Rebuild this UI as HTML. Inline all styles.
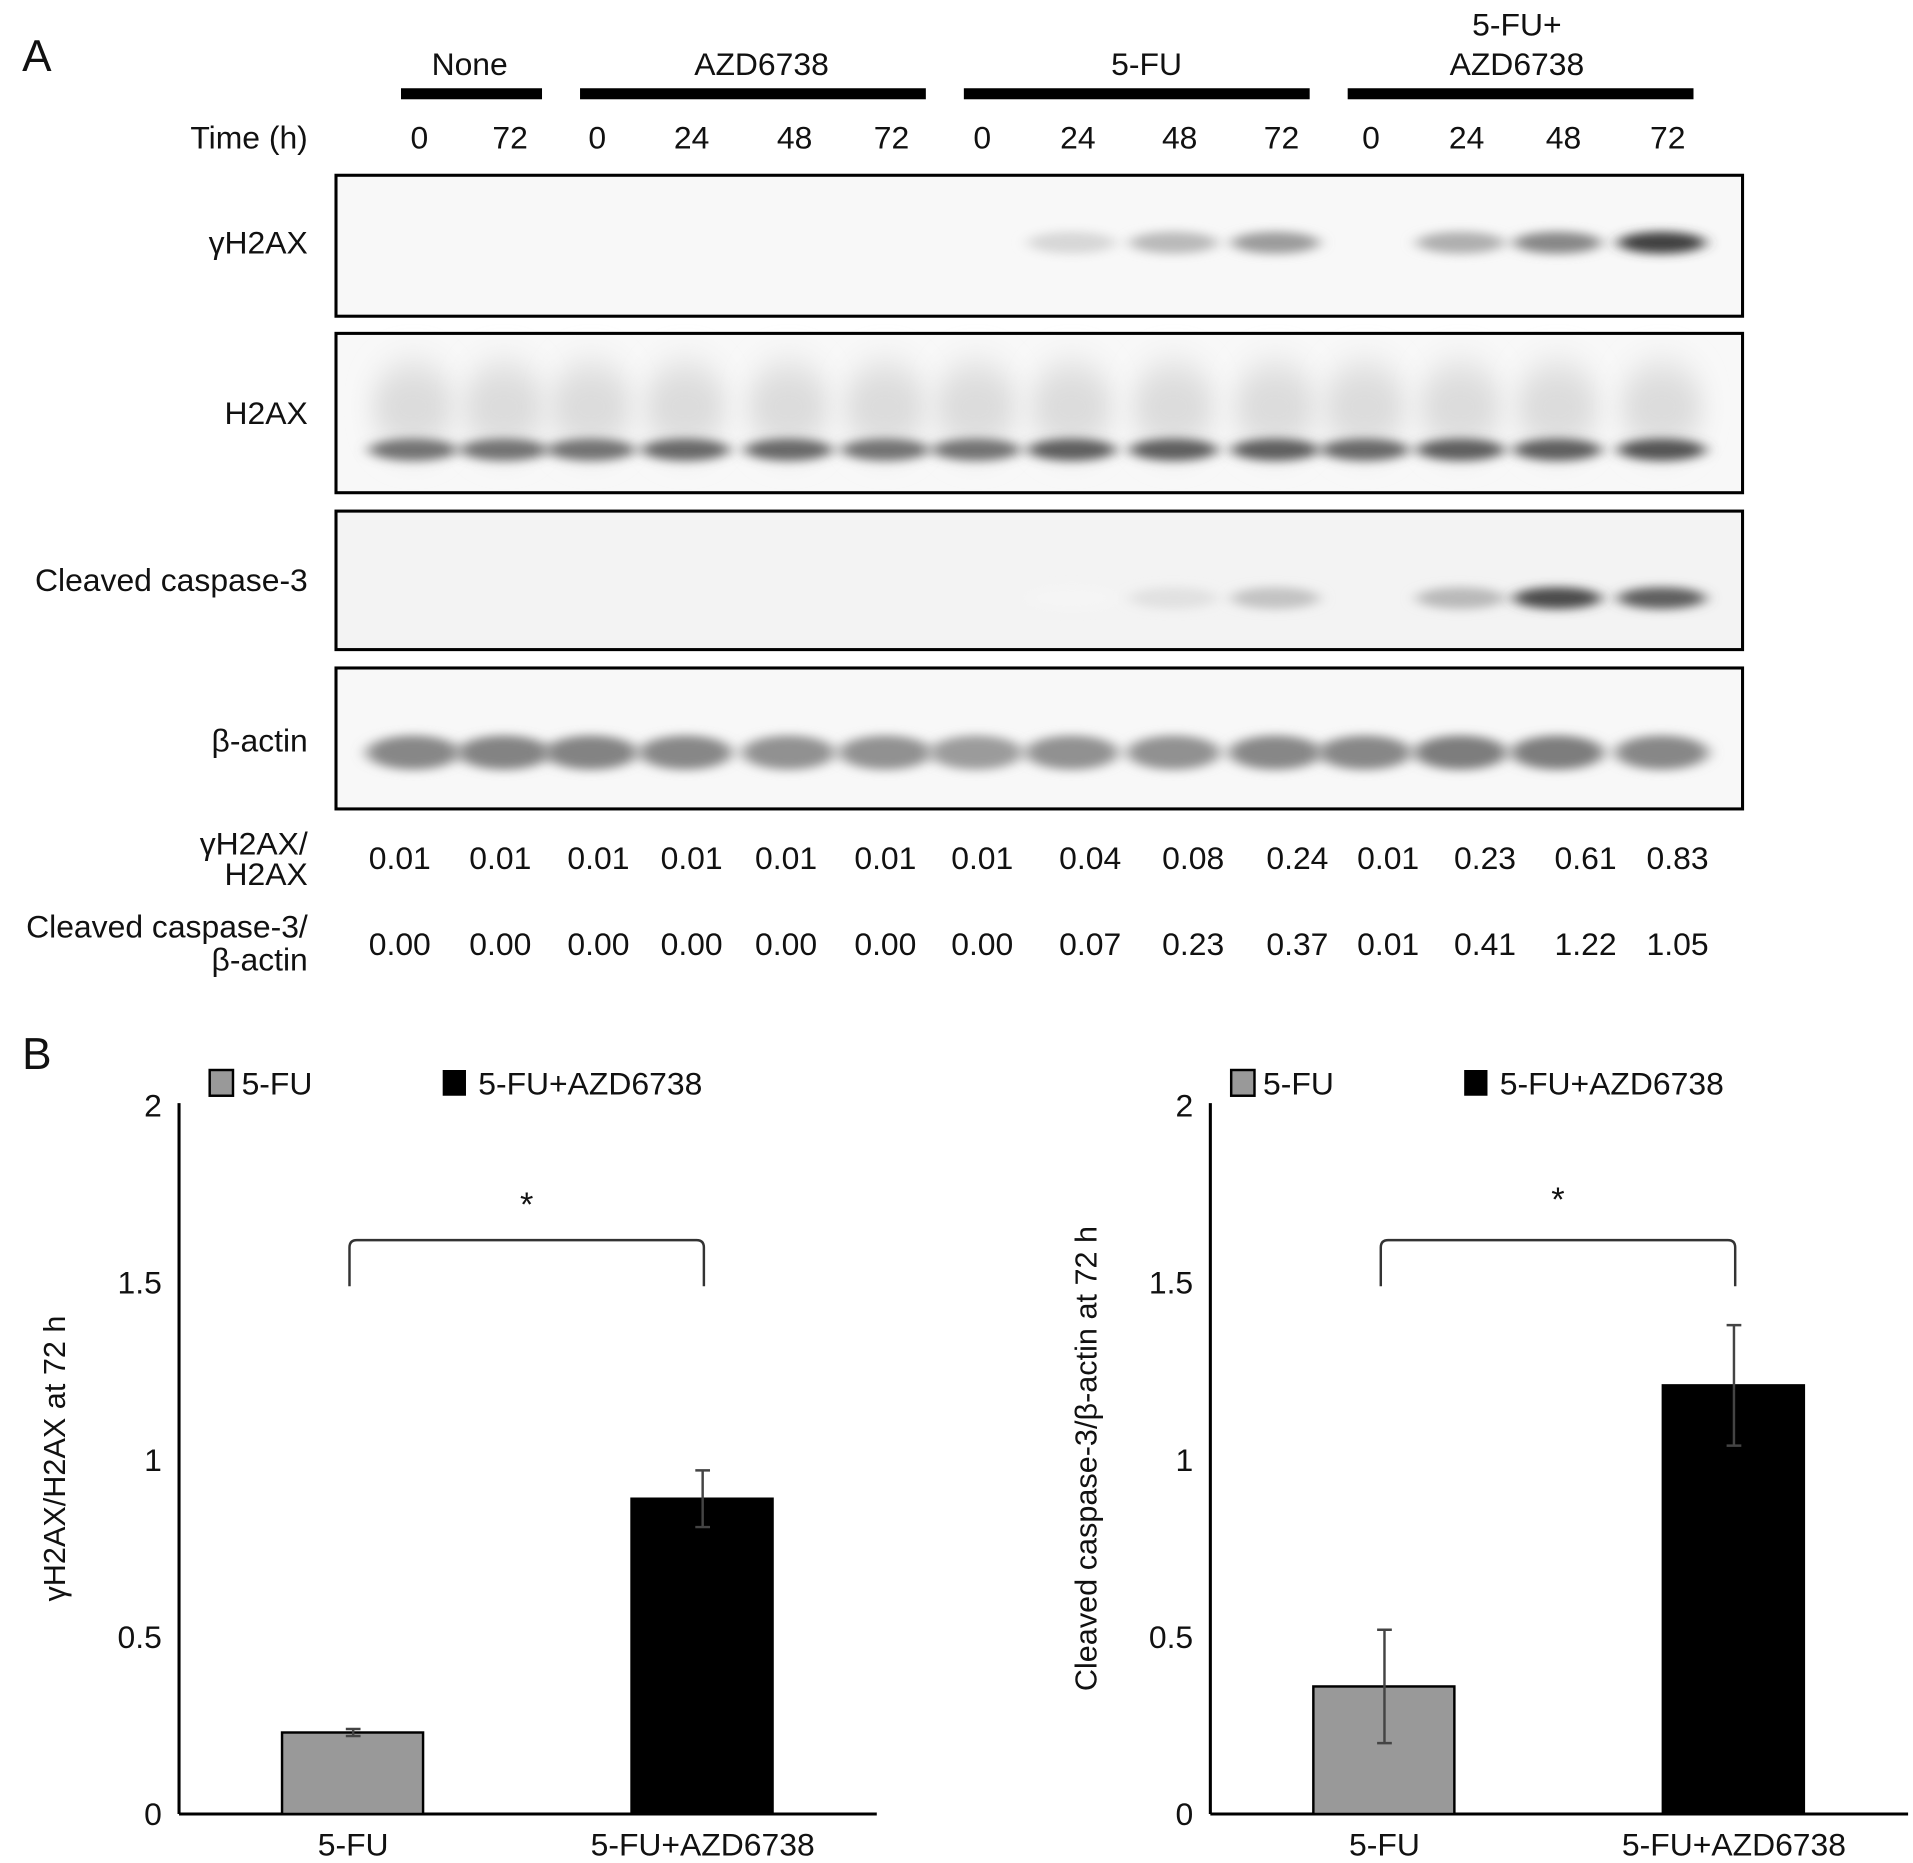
<!DOCTYPE html>
<html><head><meta charset="utf-8"><style>
html,body{margin:0;padding:0;background:#fff}
svg{display:block}
text{font-family:"Liberation Sans",Arial,sans-serif;fill:#111}
</style></head><body>
<svg id="fig" width="1913" height="1863" viewBox="0 0 1560 1520" preserveAspectRatio="none" xmlns="http://www.w3.org/2000/svg">
<defs>
<filter id="blur" x="-50%" y="-100%" width="200%" height="300%"><feGaussianBlur stdDeviation="6 4"/></filter>
<filter id="blur2" x="-50%" y="-100%" width="200%" height="300%"><feGaussianBlur stdDeviation="10 14"/></filter>
</defs>
<g id="panelA"></g>
<g id="panelB"></g>
</svg>
<script>
const lanesX=[342,416,487,564,648,727,801,879,962,1045,1118,1196,1275,1360];
const times=["0","72","0","24","48","72","0","24","48","72","0","24","48","72"];
const gH2AX=[0,0,0,0,0,0,0,0.2,0.35,0.5,0,0.4,0.6,0.95];
const h2ax=[0.7,0.7,0.7,0.75,0.75,0.7,0.7,0.8,0.8,0.8,0.75,0.8,0.8,0.85];
const casp=[0,0,0,0,0,0,0,0.05,0.15,0.3,0,0.35,0.9,0.8];
const actin=[0.6,0.62,0.62,0.6,0.55,0.55,0.5,0.55,0.55,0.6,0.6,0.65,0.65,0.6];
const ratio1=["0.01","0.01","0.01","0.01","0.01","0.01","0.01","0.04","0.08","0.24","0.01","0.23","0.61","0.83"];
const ratio2=["0.00","0.00","0.00","0.00","0.00","0.00","0.00","0.07","0.23","0.37","0.01","0.41","1.22","1.05"];
const ratioX=[326,408,488,564,641,722,801,889,973,1058,1132,1211,1293,1368];
const groups=["None","AZD6738","5-FU","5-FU+AZD6738"];
const catsB=["5-FU","5-FU+AZD6738"];
const valsL=[0.23,0.89];const errL=[0.01,0.08];
const valsR=[0.36,1.21];const errR=[0.16,0.17];
const yTicks=[0,0.5,1,1.5,2];
const NS="http://www.w3.org/2000/svg";
function mk(p,tag,at,txt){const e=document.createElementNS(NS,tag);for(const k in at)e.setAttribute(k,at[k]);if(txt!==undefined)e.textContent=txt;p.appendChild(e);return e;}
const A=document.getElementById('panelA');
let t=mk(A,'text',{x:18,y:58,'font-size':36},'A');


const gb=[[327,442,383],[473,755,621],[786,1068,935],[1099,1381,1237]];
gb.forEach((g,i)=>{
 const r=mk(A,'rect',{x:g[0],y:72,width:g[1]-g[0],height:9,fill:'#000'});
 
 
 if(i===3){mk(A,'text',{x:g[2],y:29,'font-size':26,'text-anchor':'middle'},'5-FU+');
  const tt=mk(A,'text',{x:g[2],y:61,'font-size':26,'text-anchor':'middle'},'AZD6738');
  
  }
 else{const tt=mk(A,'text',{x:g[2],y:61,'font-size':26,'text-anchor':'middle'},groups[i]);
  
  }
});
mk(A,'text',{x:251,y:121,'font-size':26,'text-anchor':'end'},'Time (h)');
lanesX.forEach((x,i)=>{const tt=mk(A,'text',{x:x,y:121,'font-size':26,'text-anchor':'middle'},times[i]);
 
 });
const boxes=[[143,258,'γH2AX',207,gH2AX,198,'gh2ax'],[272,402,'H2AX',346,h2ax,367,'h2ax'],[417,530,'Cleaved caspase-3',482,casp,488,'casp'],[545,660,'β-actin',613,actin,614,'actin']];
boxes.forEach(b=>{
 const g=mk(A,'g',{});
 
 
 mk(g,'rect',{x:274,y:b[0],width:1147,height:b[1]-b[0],fill:b[6]==='casp'?'#f3f3f3':'#f8f8f8'});
 const cg=mk(g,'g',{});
 b[4].forEach((v,i)=>{
  if(v<=0)return;
  const c=Math.round(255-v*200);
  if(b[6]==='h2ax'){mk(cg,'ellipse',{cx:lanesX[i]-5,cy:b[5]-35,rx:34,ry:35,fill:'rgb(220,220,220)',filter:'url(#blur2)'});}
  const e=mk(cg,'ellipse',{cx:lanesX[i]-5,cy:b[5],rx:b[6]==='actin'?38:36,ry:b[6]==='actin'?14:9,fill:`rgb(${c},${c},${c})`,filter:'url(#blur)'});
  
  
 });
 mk(g,'rect',{x:274,y:b[0],width:1147,height:b[1]-b[0],fill:'none',stroke:'#000','stroke-width':2.5});
 const l=mk(A,'text',{x:251,y:b[3],'font-size':26,'text-anchor':'end'},b[2]);
 
 
});
mk(A,'text',{x:251,y:697,'font-size':26,'text-anchor':'end'},'γH2AX/');
mk(A,'text',{x:251,y:722,'font-size':26,'text-anchor':'end'},'H2AX');
mk(A,'text',{x:251,y:765,'font-size':26,'text-anchor':'end'},'Cleaved caspase-3/');
mk(A,'text',{x:251,y:792,'font-size':26,'text-anchor':'end'},'β-actin');
ratioX.forEach((x,i)=>{
 let a=mk(A,'text',{x:x,y:709,'font-size':26,'text-anchor':'middle'},ratio1[i]);
 
 
 a=mk(A,'text',{x:x,y:779,'font-size':26,'text-anchor':'middle'},ratio2[i]);
 
 
});
const B=document.getElementById('panelB');
t=mk(B,'text',{x:18,y:872,'font-size':36},'B');


function chart(ox,vals,errs,ylabel,name,legX,star){
 const g=mk(B,'g',{});
 
 
 const y0=1480,ppu=289;
 const Y=v=>y0-v*ppu;
 const bx=[ox+84,ox+369];
 mk(g,'line',{x1:ox,y1:Y(2)-2,x2:ox,y2:y0,stroke:'#000','stroke-width':2.5});
 mk(g,'line',{x1:ox,y1:y0,x2:ox+569,y2:y0,stroke:'#000','stroke-width':2.5});
 yTicks.forEach(v=>{const tt=mk(g,'text',{x:ox-14,y:Y(v)+9,'font-size':26,'text-anchor':'end'},String(v));
  
  });
 vals.forEach((v,i)=>{
  const r=mk(g,'rect',{x:bx[i],y:Y(v),width:115,height:y0-Y(v),fill:i?'#000':'#999',stroke:'#000','stroke-width':2});
  
  
  const cx=bx[i]+58;
  const e=mk(g,'path',{d:`M${cx},${Y(v+errs[i])}V${Y(v-errs[i])}M${cx-6},${Y(v+errs[i])}H${cx+6}M${cx-6},${Y(v-errs[i])}H${cx+6}`,stroke:'#444','stroke-width':2,fill:'none'});
  
  
  const xl=mk(g,'text',{x:cx,y:1514,'font-size':26,'text-anchor':'middle'},catsB[i]);
  
  
 });
 const b1=bx[0]+55,b2=bx[1]+59;
 const br=mk(g,'path',{d:`M${b1},${Y(1.49)}V${Y(1.62)+6}Q${b1},${Y(1.62)} ${b1+6},${Y(1.62)}H${b2-6}Q${b2},${Y(1.62)} ${b2},${Y(1.62)+6}V${Y(1.49)}`,stroke:'#333','stroke-width':2,fill:'none'});
 
 
 const s=mk(g,'text',{x:(b1+b2)/2,y:star,'font-size':28,'text-anchor':'middle','font-family':'Liberation Serif'},'*');
 
 
 const yl=mk(g,'text',{x:0,y:0,'font-size':25,'text-anchor':'middle',transform:`translate(${ox-93},1190) rotate(-90)`},ylabel);
 
 
 const l1=mk(g,'rect',{x:legX,y:873,width:19,height:21,fill:'#999',stroke:'#000','stroke-width':2});
 
 
 mk(g,'text',{x:legX+26,y:893,'font-size':26},catsB[0]);
 const l2=mk(g,'rect',{x:legX+190,y:873,width:19,height:21,fill:'#000'});
 
 
 mk(g,'text',{x:legX+219,y:893,'font-size':26},catsB[1]);
}
chart(146,valsL,errL,'γH2AX/H2AX at 72 h','chart-gh2ax',171,992);
chart(987,valsR,errR,'Cleaved caspase-3/β-actin at 72 h','chart-caspase',1004,988);
</script>
</body></html>
